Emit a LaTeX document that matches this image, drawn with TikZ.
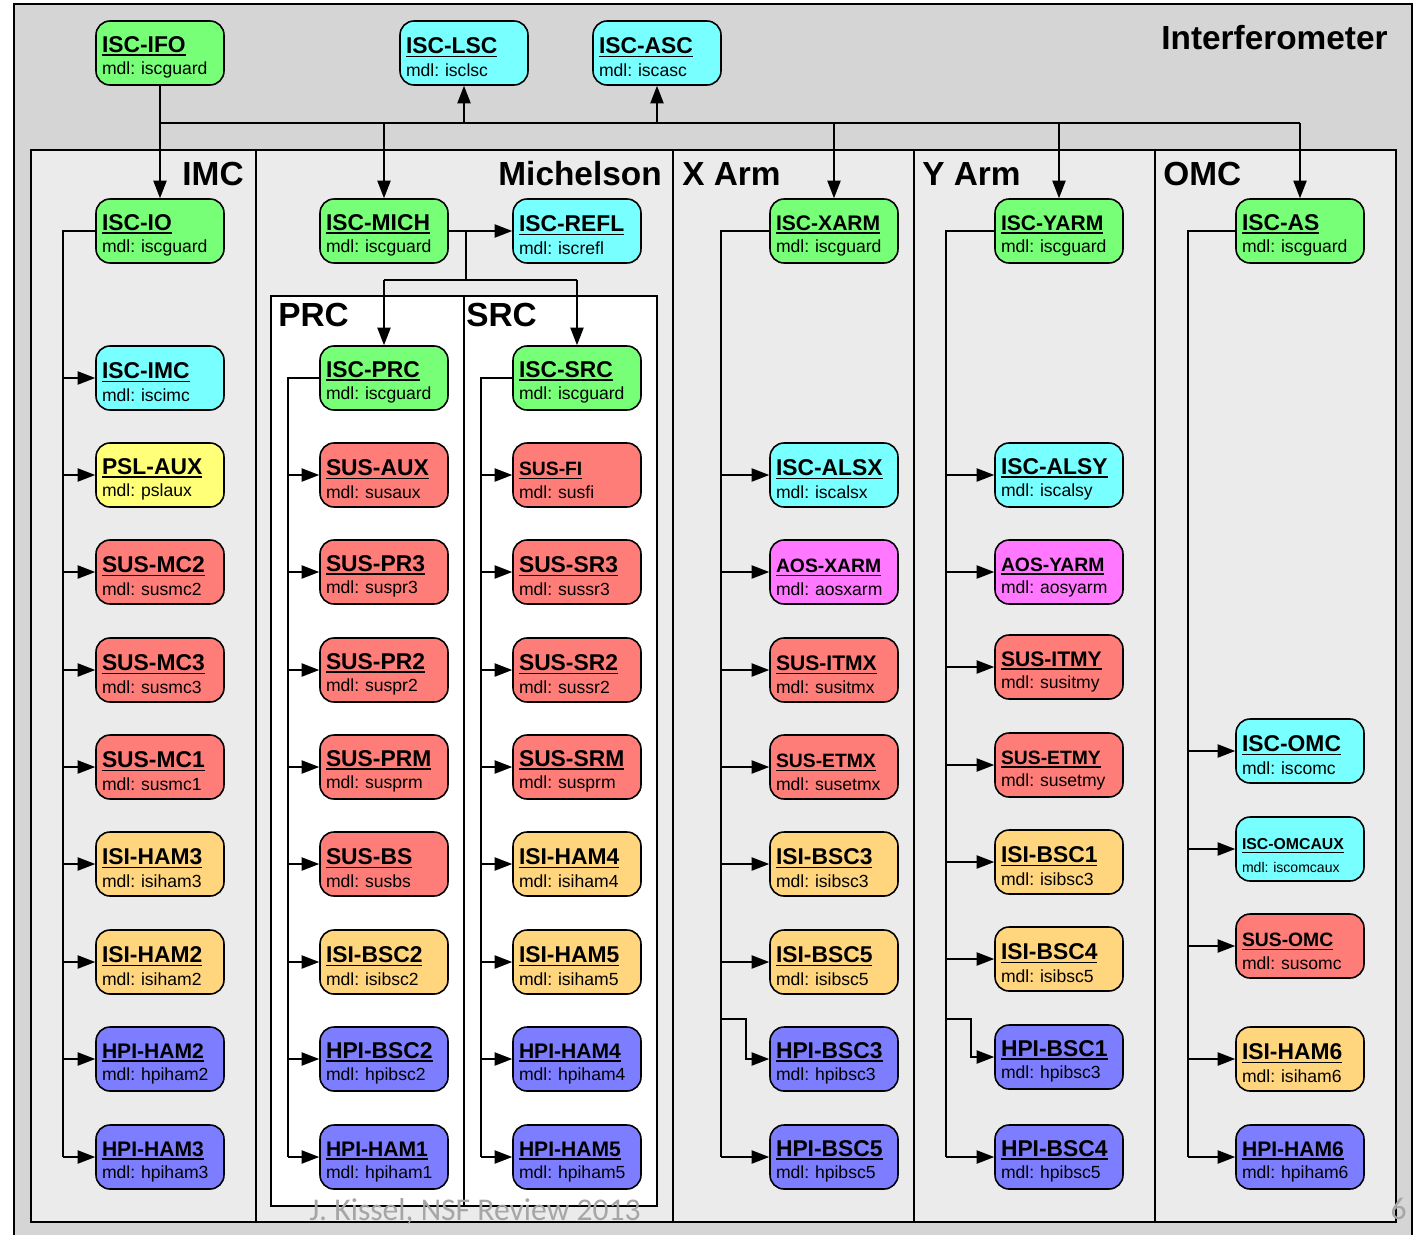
\documentclass[tikz,border=0pt]{standalone}
\usepackage{fontspec}
\setmainfont{Liberation Sans}
\newfontfamily\footfont{Carlito}
\usetikzlibrary{arrows.meta}

\definecolor{ifogray}{HTML}{D5D5D5}
\definecolor{subgray}{HTML}{EBEBEB}
\definecolor{footgray}{HTML}{A6A6A6}
\definecolor{gdn}{HTML}{78FF78}
\definecolor{isc}{HTML}{78FFFF}
\definecolor{psl}{HTML}{FFFF78}
\definecolor{sus}{HTML}{FF7D78}
\definecolor{isi}{HTML}{FFD57D}
\definecolor{hpi}{HTML}{7D7DFF}
\definecolor{aos}{HTML}{FF78FF}

\newsavebox{\ulbox}
\newcommand{\ulbf}[1]{\sbox{\ulbox}{#1}\rlap{\rule[-2pt]{\wd\ulbox}{0.9pt}}\usebox{\ulbox}}
\newcommand{\mdl}[3][13]{{\fontsize{#1}{13}\selectfont\bfseries\rule{0pt}{14pt}\ulbf{#2}}\\mdl:~#3}

\begin{document}
\begin{tikzpicture}[x=0.02cm, y=-0.02cm,
  blk/.style={draw, line width=0.9pt, rounded corners=0.28cm, minimum height=1.28cm, text width=2.32cm, inner sep=0.12cm, align=left, font=\fontsize{10}{13}\selectfont},
  arr/.style={line width=0.9pt, -{Triangle[length=10pt,width=7.5pt]}},
  wire/.style={line width=0.9pt},
  sect/.style={inner sep=0pt, font=\fontsize{19}{20}\selectfont\bfseries}]
\useasboundingbox (0,0) rectangle (1416,1234);

\draw[wire, fill=ifogray] (14,4) rectangle (1412,1240);
\foreach \a/\b in {31/256, 256/673, 673/914, 914/1155, 1155/1396}
  \draw[wire, fill=subgray] (\a,150) rectangle (\b,1222);
\draw[wire, fill=white] (271,296) rectangle (657,1206);
\draw[wire] (464,296) -- (464,1206);

\node[sect, anchor=base east] (tifo) at (1388,49) {Interferometer};
\node[sect, anchor=base east] (timc) at (244,185) {IMC};
\node[sect, anchor=base east] (tmich) at (662,185) {Michelson};
\node[sect, anchor=base west] (txarm) at (682,185) {X Arm};
\node[sect, anchor=base west] (tyarm) at (922,185) {Y Arm};
\node[sect, anchor=base west] (tomc) at (1163,185) {OMC};
\node[sect, anchor=base west] (tprc) at (278,326) {PRC};
\node[sect, anchor=base west] (tsrc) at (466,326) {SRC};

\node[blk, fill=gdn] (iscifo) at (160,53) {\mdl{ISC-IFO}{iscguard}};
\node[blk, fill=isc] (isclsc) at (464,53) {\mdl{ISC-LSC}{isclsc}};
\node[blk, fill=isc] (iscasc) at (657,53) {\mdl{ISC-ASC}{iscasc}};

\node[blk, fill=gdn] (iscio) at (160,231) {\mdl{ISC-IO}{iscguard}};
\node[blk, fill=gdn] (iscmich) at (384,231) {\mdl{ISC-MICH}{iscguard}};
\node[blk, fill=isc] (iscrefl) at (577,231) {\mdl{ISC-REFL}{iscrefl}};
\node[blk, fill=gdn] (iscxarm) at (834,231) {\mdl[12]{ISC-XARM}{iscguard}};
\node[blk, fill=gdn] (iscyarm) at (1059,231) {\mdl[12]{ISC-YARM}{iscguard}};
\node[blk, fill=gdn] (iscas) at (1300,231) {\mdl{ISC-AS}{iscguard}};
\node[blk, fill=gdn] (iscprc) at (384,378) {\mdl{ISC-PRC}{iscguard}};
\node[blk, fill=gdn] (iscsrc) at (577,378) {\mdl{ISC-SRC}{iscguard}};

\coordinate (bus) at (0,123);
\coordinate (mbr) at (466,280);
\coordinate (imct) at (63,0);
\coordinate (prct) at (288,0);
\coordinate (srct) at (481,0);
\coordinate (xt) at (721,0);
\coordinate (yt) at (946,0);
\coordinate (omct) at (1188,0);
\coordinate (xjog) at (746,1019);
\coordinate (yjog) at (971,1019);

\draw[wire] (iscifo) -- (iscifo |- bus) -- (iscas |- bus);
\draw[arr] (iscifo |- bus) -- (iscio);
\foreach \n in {isclsc, iscasc}
  \draw[arr] (\n |- bus) -- (\n);
\foreach \n in {iscmich, iscxarm, iscyarm, iscas}
  \draw[arr] (\n |- bus) -- (\n);

\draw[arr] (iscmich) -- (iscrefl);
\draw[wire] (mbr |- iscmich) -- (mbr);
\draw[wire] (iscprc |- mbr) -- (iscsrc |- mbr);
\draw[arr] (iscprc |- mbr) -- (iscprc);
\draw[arr] (iscsrc |- mbr) -- (iscsrc);

\foreach \n/\t/\m/\c/\y/\s in {iscimc/ISC-IMC/iscimc/isc/378/13, pslaux/PSL-AUX/pslaux/psl/475/13,
    susmc2/SUS-MC2/susmc2/sus/572/13, susmc3/SUS-MC3/susmc3/sus/670/13, susmc1/SUS-MC1/susmc1/sus/767/13,
    isiham3/ISI-HAM3/isiham3/isi/864/13, isiham2/ISI-HAM2/isiham2/isi/962/13,
    hpiham2/HPI-HAM2/hpiham2/hpi/1059/12, hpiham3/HPI-HAM3/hpiham3/hpi/1157/12} {
  \node[blk, fill=\c] (\n) at (160,\y) {\mdl[\s]{\t}{\m}};
  \draw[arr] (imct |- \n) -- (\n);
}
\draw[wire] (iscio) -| (imct |- hpiham3);

\foreach \n/\t/\m/\c/\y/\s in {susaux/SUS-AUX/susaux/sus/475/13, suspr3/SUS-PR3/suspr3/sus/572/13,
    suspr2/SUS-PR2/suspr2/sus/670/13, susprm/SUS-PRM/susprm/sus/767/13, susbs/SUS-BS/susbs/sus/864/13,
    isibsc2/ISI-BSC2/isibsc2/isi/962/13, hpibsc2/HPI-BSC2/hpibsc2/hpi/1059/13,
    hpiham1/HPI-HAM1/hpiham1/hpi/1157/12} {
  \node[blk, fill=\c] (\n) at (384,\y) {\mdl[\s]{\t}{\m}};
  \draw[arr] (prct |- \n) -- (\n);
}
\draw[wire] (iscprc) -| (prct |- hpiham1);

\foreach \n/\t/\m/\c/\y/\s in {susfi/SUS-FI/susfi/sus/475/11, sussr3/SUS-SR3/sussr3/sus/572/13,
    sussr2/SUS-SR2/sussr2/sus/670/13, sussrm/SUS-SRM/susprm/sus/767/13, isiham4/ISI-HAM4/isiham4/isi/864/13,
    isiham5/ISI-HAM5/isiham5/isi/962/13, hpiham4/HPI-HAM4/hpiham4/hpi/1059/12,
    hpiham5/HPI-HAM5/hpiham5/hpi/1157/12} {
  \node[blk, fill=\c] (\n) at (577,\y) {\mdl[\s]{\t}{\m}};
  \draw[arr] (srct |- \n) -- (\n);
}
\draw[wire] (iscsrc) -| (srct |- hpiham5);

\foreach \n/\t/\m/\c/\y/\s in {iscalsx/ISC-ALSX/iscalsx/isc/475/13, aosxarm/AOS-XARM/aosxarm/aos/572/11,
    susitmx/SUS-ITMX/susitmx/sus/670/12, susetmx/SUS-ETMX/susetmx/sus/767/11, isibsc3/ISI-BSC3/isibsc3/isi/864/13,
    isibsc5/ISI-BSC5/isibsc5/isi/962/13, hpibsc5/HPI-BSC5/hpibsc5/hpi/1157/13} {
  \node[blk, fill=\c] (\n) at (834,\y) {\mdl[\s]{\t}{\m}};
  \draw[arr] (xt |- \n) -- (\n);
}
\node[blk, fill=hpi] (hpibsc3) at (834,1059) {\mdl{HPI-BSC3}{hpibsc3}};
\draw[arr] (xt |- xjog) -- (xjog) |- (hpibsc3);
\draw[wire] (iscxarm) -| (xt |- hpibsc5);

\foreach \n/\t/\m/\c/\y/\s in {iscalsy/ISC-ALSY/iscalsy/isc/475/13, aosyarm/AOS-YARM/aosyarm/aos/572/11,
    susitmy/SUS-ITMY/susitmy/sus/667/12, susetmy/SUS-ETMY/susetmy/sus/765/11, isibsc1/ISI-BSC1/isibsc3/isi/862/13,
    isibsc4/ISI-BSC4/isibsc5/isi/959/13, hpibsc4/HPI-BSC4/hpibsc5/hpi/1157/13} {
  \node[blk, fill=\c] (\n) at (1059,\y) {\mdl[\s]{\t}{\m}};
  \draw[arr] (yt |- \n) -- (\n);
}
\node[blk, fill=hpi] (hpibsc1) at (1059,1057) {\mdl{HPI-BSC1}{hpibsc3}};
\draw[arr] (yt |- yjog) -- (yjog) |- (hpibsc1);
\draw[wire] (iscyarm) -| (yt |- hpibsc4);

\foreach \n/\t/\m/\c/\y/\s in {iscomc/ISC-OMC/iscomc/isc/751/13, susomc/SUS-OMC/susomc/sus/946/11,
    isiham6/ISI-HAM6/isiham6/isi/1059/13, hpiham6/HPI-HAM6/hpiham6/hpi/1157/12} {
  \node[blk, fill=\c] (\n) at (1300,\y) {\mdl[\s]{\t}{\m}};
  \draw[arr] (omct |- \n) -- (\n);
}
\node[blk, fill=isc, font=\fontsize{8}{13}\selectfont] (iscomcaux) at (1300,849) {\mdl[9]{ISC-OMCAUX}{iscomcaux}};
\draw[arr] (omct |- iscomcaux) -- (iscomcaux);
\draw[wire] (iscas) -| (omct |- hpiham6);

\node[font=\footfont\fontsize{18}{18}\selectfont, text=footgray, anchor=base] (foot) at (475,1220) {J. Kissel, NSF Review 2013};
\node[font=\footfont\fontsize{18}{18}\selectfont, text=footgray, anchor=base east, inner sep=0pt] (pg) at (1407,1219) {6};
\end{tikzpicture}
\end{document}
